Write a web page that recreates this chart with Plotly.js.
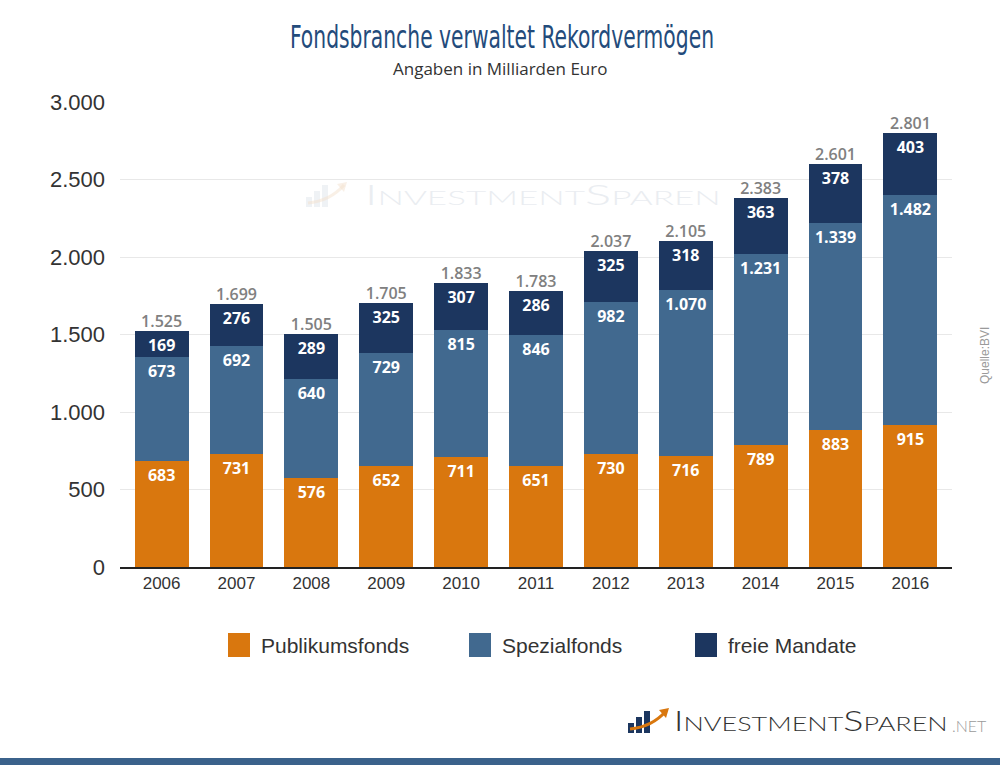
<!DOCTYPE html>
<html>
<head>
<meta charset="utf-8">
<script src="https://cdn.plot.ly/plotly-3.0.1.min.js"></script>
<style>
html,body{margin:0;padding:0;background:#fff;}
#chart{width:1000px;height:765px;}
</style>
</head>
<body>
<div id="chart"></div>
<script>
const years = ['2006','2007','2008','2009','2010','2011','2012','2013','2014','2015','2016'];
const publikumsfonds = [683,731,576,652,711,651,730,716,789,883,915];
const spezialfonds = [673,692,640,729,815,846,982,1070,1231,1339,1482];
const freieMandate = [169,276,289,325,307,286,325,318,363,378,403];
const totals = [1525,1699,1505,1705,1833,1783,2037,2105,2383,2601,2801];
const seriesNames = ['Publikumsfonds','Spezialfonds','freie Mandate'];
const seriesColors = ['#d9770e','#41698f','#1c365f'];
const titleText = 'Fondsbranche verwaltet Rekordvermögen';
const subtitleText = 'Angaben in Milliarden Euro';
const sourceText = 'Quelle:BVI';

function fmt(v){ return String(v).replace(/\B(?=(\d{3})+(?!\d))/g,'.'); }

// plot area in pixels
const L = 120, R = 952, T = 102, B = 567;
const px2x = p => (p - L) / (R - L);
const px2y = p => (B - p) / (B - T);

const seriesValues = [publikumsfonds, spezialfonds, freieMandate];
const traces = seriesValues.map((vals, i) => ({
  type: 'bar',
  name: seriesNames[i],
  x: years,
  y: vals,
  text: vals.map(fmt),
  textposition: 'inside',
  insidetextanchor: 'end',
  constraintext: 'none',
  textangle: 0,
  textfont: {family: 'Open Sans', size: 16, color: '#ffffff', weight: 'bold'},
  marker: {color: seriesColors[i], line: {width: 0}},
  hoverinfo: 'skip',
  showlegend: false
}));

traces.push({
  type: 'scatter',
  mode: 'text',
  x: years,
  y: totals,
  text: totals.map(fmt),
  textposition: 'top center',
  textfont: {family: 'Open Sans', size: 16, color: '#808080', weight: 600},
  hoverinfo: 'skip',
  showlegend: false,
  cliponaxis: false
});

const shapes = [];
const annotations = [];

// subtitle
annotations.push({
  xref: 'paper', yref: 'paper', x: px2x(500), y: px2y(69),
  text: subtitleText, showarrow: false, xanchor: 'center', yanchor: 'middle',
  font: {family: 'Open Sans', size: 17, color: '#333333'}
});

// manual legend
const legendSq = [228, 469, 695];
legendSq.forEach((sx, i) => {
  shapes.push({type: 'rect', xref: 'paper', yref: 'paper',
    x0: px2x(sx), x1: px2x(sx + 22), y0: px2y(657), y1: px2y(633),
    fillcolor: seriesColors[i], line: {width: 0}});
  annotations.push({xref: 'paper', yref: 'paper', x: px2x(sx + 31), y: px2y(645),
    text: seriesNames[i], showarrow: false, xanchor: 'left', yanchor: 'middle',
    font: {family: 'Liberation Sans, Arial', size: 21, color: '#333333'}});
});

// source
annotations.push({
  xref: 'paper', yref: 'paper', x: px2x(985), y: px2y(355),
  text: sourceText, showarrow: false, textangle: -90, xanchor: 'center', yanchor: 'middle',
  font: {family: 'Liberation Sans, Arial', size: 12, color: '#9a9a9a'}
});

// bottom band
shapes.push({type: 'rect', xref: 'paper', yref: 'paper',
  x0: px2x(0), x1: px2x(1000), y0: px2y(765), y1: px2y(758),
  fillcolor: '#3b628b', line: {width: 0}});

// logos (bottom and faint watermark)
const logoTexts = [];
function logo(x0, yc, col, dark, orange, alpha, big, small, textCenter, textWidth, baseline, net){
  const bars = [[0,6,10],[8,6,16],[16,6,22]];
  bars.forEach(b => {
    shapes.push({type: 'rect', xref: 'paper', yref: 'paper',
      x0: px2x(x0 + b[0]), x1: px2x(x0 + b[0] + b[1]), y0: px2y(yc + 10), y1: px2y(yc + 10 - b[2]),
      fillcolor: dark, line: {width: 0}, opacity: alpha});
  });
  shapes.push({type: 'path', xref: 'paper', yref: 'paper',
    path: 'M' + px2x(x0 + 2) + ',' + px2y(yc + 6) + ' Q' + px2x(x0 + 24) + ',' + px2y(yc + 4) + ' ' + px2x(x0 + 38) + ',' + px2y(yc - 12),
    line: {color: orange, width: 3}, opacity: alpha});
  shapes.push({type: 'path', xref: 'paper', yref: 'paper',
    path: 'M' + px2x(x0 + 31) + ',' + px2y(yc - 13) + ' L' + px2x(x0 + 41) + ',' + px2y(yc - 15) + ' L' + px2x(x0 + 38) + ',' + px2y(yc - 5) + ' Z',
    fillcolor: orange, line: {width: 0}, opacity: alpha});
  const t = 'I<span style="font-size:' + small + 'px">NVESTMENT</span>S<span style="font-size:' + small + 'px">PAREN</span>';
  logoTexts.push({color: col, width: textWidth});
  annotations.push({xref: 'paper', yref: 'paper', x: px2x(textCenter), y: px2y(baseline + 0.23 * big),
    text: t, showarrow: false, xanchor: 'center', yanchor: 'bottom',
    font: {family: 'Lato', size: big, color: col, weight: 300}});
  if (net) {
    annotations.push({xref: 'paper', yref: 'paper', x: px2x(950), y: px2y(baseline + 4),
      text: '.NET', showarrow: false, xanchor: 'left', yanchor: 'bottom',
      font: {family: 'Lato', size: 16, color: '#9a9a9a', weight: 300}});
  }
}
logo(628, 723, '#333333', '#1c365f', '#d9770e', 1, 28, 20, 810, 274, 733, true);
logo(306, 197, '#eaedf1', '#dfe5ec', '#f4e2cf', 0.5, 28, 20, 542, 356, 207, false);

const layout = {
  width: 1000, height: 765,
  margin: {l: L, r: 1000 - R, t: T, b: 765 - B, pad: 0},
  paper_bgcolor: '#ffffff', plot_bgcolor: '#ffffff',
  separators: ',.',
  barmode: 'stack',
  bargap: 0.28,
  showlegend: false,
  title: {
    text: titleText, x: 0.502, xref: 'container', xanchor: 'center',
    y: 1 - 37 / 765, yref: 'container', yanchor: 'middle',
    font: {family: 'Liberation Sans Narrow, DejaVu Sans Condensed, Roboto', size: 32, color: '#234b7b'}
  },
  xaxis: {
    type: 'category',
    showgrid: false, zeroline: false,
    showline: true, linecolor: '#222222', linewidth: 1.5,
    ticks: '', tickfont: {family: 'Liberation Sans, Arial', size: 17, color: '#333333'},
    fixedrange: true
  },
  yaxis: {
    range: [0, 3000],
    tickvals: [0, 500, 1000, 1500, 2000, 2500, 3000],
    tickformat: ',d',
    showgrid: true, gridcolor: '#e8e8e8', gridwidth: 1,
    zeroline: false, showline: false, ticks: '',
    ticklabelstandoff: 14,
    tickfont: {family: 'Liberation Sans, Arial', size: 22, color: '#333333'},
    fixedrange: true
  },
  shapes: shapes,
  annotations: annotations
};

function fitText(el, width, adjust){
  if (!el) return;
  el.setAttribute('textLength', String(width));
  el.setAttribute('lengthAdjust', adjust);
}

Plotly.newPlot('chart', traces, layout, {displayModeBar: false, staticPlot: true}).then(gd => {
  fitText(gd.querySelector('.gtitle'), 424, 'spacingAndGlyphs');
  const anns = Array.from(gd.querySelectorAll('.annotation-text')).filter(a => a.textContent === 'INVESTMENTSPAREN');
  anns.forEach((a, i) => {
    const w = logoTexts[i] ? logoTexts[i].width : null;
    if (w) fitText(a, w, 'spacingAndGlyphs');
  });
});
</script>
</body>
</html>
